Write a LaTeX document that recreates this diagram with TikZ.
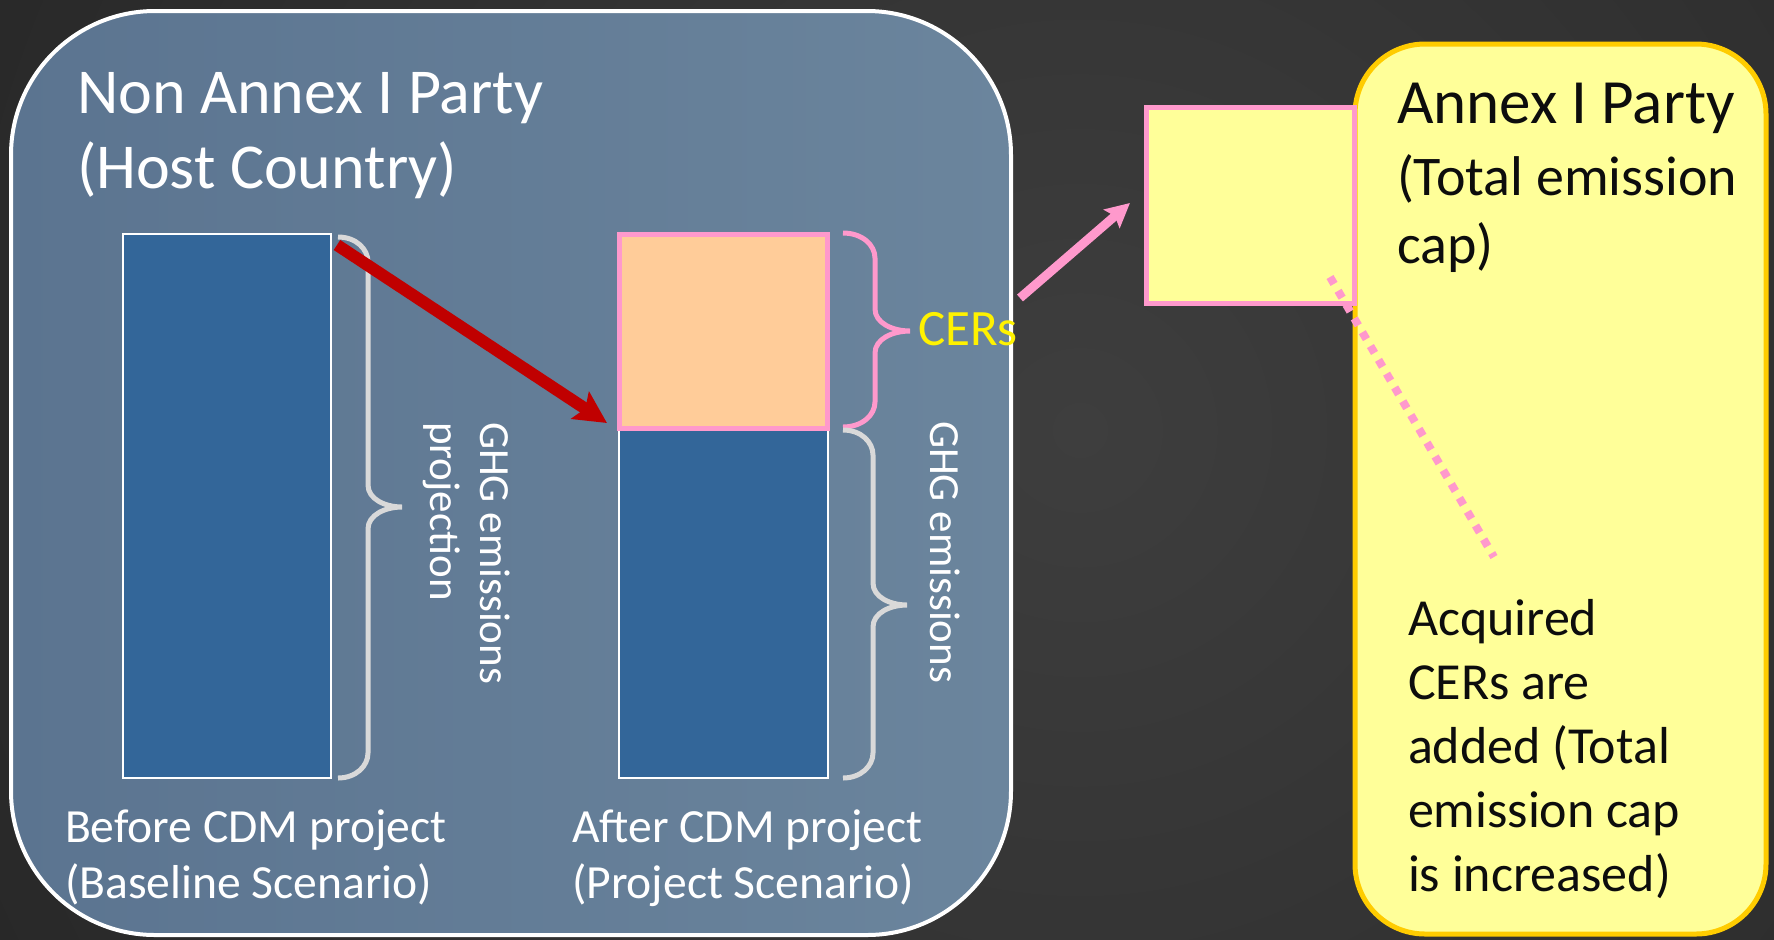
\documentclass[tikz,border=0pt]{standalone}
\usepackage{fontspec}
\setmainfont{Carlito}
\usetikzlibrary{arrows.meta}
\definecolor{bgin}{HTML}{3E3E3E}
\definecolor{bgout}{HTML}{141414}
\definecolor{boxleft}{HTML}{5B7490}
\definecolor{boxright}{HTML}{6B859D}
\definecolor{barblue}{HTML}{336699}
\definecolor{peach}{HTML}{FFCC99}
\definecolor{pinkc}{HTML}{FF99CC}
\definecolor{lyellow}{HTML}{FFFF99}
\definecolor{goldc}{HTML}{FFCC00}
\definecolor{redc}{HTML}{C00000}
\definecolor{braceg}{HTML}{D9D9D9}
\definecolor{txtdark}{HTML}{0D0D0D}
\pgfdeclareradialshading{bgshade}{\pgfpoint{0bp}{0bp}}{color(0bp)=(bgin); color(50bp)=(bgout)}
\newcommand\mybrace[7]{%
  \draw[#1] (#2,#5) .. controls ({#2+0.6*(#3-#2)},#5) and (#3,{#5+12}) .. (#3,{#5+25})
   -- (#3,{#6-22}) .. controls (#3,{#6-8}) and ({#3+0.5*(#4-#3)},#6) .. (#4,#6)
   .. controls ({#3+0.5*(#4-#3)},#6) and (#3,{#6+8}) .. (#3,{#6+22})
   -- (#3,{#7-25}) .. controls (#3,{#7-12}) and ({#2+0.6*(#3-#2)},#7) .. (#2,#7);}
\begin{document}
\begin{tikzpicture}[x=0.5pt,y=-0.5pt,
  boxbase/.style={rectangle, inner sep=0pt, outer sep=0pt, anchor=north west},
  container/.style={boxbase, left color=boxleft, right color=boxright, draw=white, line width=2pt, rounded corners=72pt},
  bluebar/.style={boxbase, fill=barblue, draw=white, line width=1pt},
  cerbox/.style={boxbase, fill=peach, draw=pinkc, line width=2.5pt},
  smallbox/.style={boxbase, fill=lyellow, draw=pinkc, line width=2.5pt},
  annexbox/.style={boxbase, fill=lyellow, draw=goldc, line width=2.5pt, rounded corners=35pt},
  graybrace/.style={draw=braceg, line width=2.5pt},
  pinkbrace/.style={draw=pinkc, line width=2.5pt},
  redarrow/.style={draw=redc, line width=6pt, -{Stealth[length=16pt, width=16pt, inset=3pt]}},
  pinkarrow/.style={draw=pinkc, line width=4.5pt, -{Stealth[length=12pt, width=12pt, inset=2pt]}},
  dotline/.style={draw=pinkc, line width=4pt, dash pattern=on 4pt off 4pt},
  lbl/.style={anchor=base west, inner sep=0pt, outer sep=0pt}
]
\useasboundingbox (0,0) rectangle (1774,939);
\begin{scope}
  \clip (0,0) rectangle (1774,939);
  \fill[bgout] (0,0) rectangle (1774,939);
  \shade[shading=bgshade] (-70,-720) rectangle (2230,1580);
\end{scope}

% left container
\node[container, minimum width=500pt, minimum height=462pt] (host) at (11,11) {};
\node[lbl, text=white, font=\fontsize{32}{37.5}\selectfont] (hosttitle) at (77,113)
  {\vtop{\hbox{Non Annex I Party}\hbox{(Host Country)}}};

% baseline bar
\node[bluebar, minimum width=104pt, minimum height=272pt] (bar1) at (123,234) {};
\mybrace{graybrace}{338}{368}{402}{237}{507}{778}
\node[lbl, rotate=-90, text=white, font=\fontsize{21.5}{25}\selectfont] (ghgproj) at (480,422)
  {\vtop{\hbox{GHG emissions}\hbox{projection}}};
\node[lbl, text=white, font=\fontsize{23.8}{28}\selectfont] (before) at (65,842)
  {\vtop{\hbox{Before CDM project}\hbox{(Baseline Scenario)}}};

% project bar
\node[bluebar, minimum width=104.5pt, minimum height=175pt] (bar2) at (619,428) {};
\node[cerbox, minimum width=104pt, minimum height=96.75pt] (cers) at (619.5,234.5) {};
\mybrace{pinkbrace}{843}{875}{910}{233}{331}{427}
\mybrace{graybrace}{843}{873}{907}{430}{605}{778}
\node[lbl, text=yellow, font=\fontsize{25.5}{30}\selectfont] (cerlabel) at (918,345) {CERs};
\node[lbl, rotate=-90, text=white, font=\fontsize{21.5}{25}\selectfont] (ghgem) at (930,421) {GHG emissions};
\node[lbl, text=white, font=\fontsize{23.8}{28}\selectfont] (after) at (572,842)
  {\vtop{\hbox{After CDM project}\hbox{(Project Scenario)}}};

% red arrow
\coordinate (redstart) at (337,245);
\coordinate (redend) at (607,423);
\draw[redarrow] (redstart) -- (redend);

% Annex I party
\node[annexbox, minimum width=205.5pt, minimum height=445pt] (annex) at (1355,44) {};
\node[smallbox, minimum width=104pt, minimum height=97.75pt] (acq) at (1146,107.5) {};
\node[lbl, text=txtdark] (annextitle) at (1397,123)
  {\vtop{\baselineskip=36pt\lineskiplimit=-100pt
    \hbox{\fontsize{31.5}{35}\selectfont Annex I Party}
    \hbox{\fontsize{28}{34}\selectfont (Total emission}\baselineskip=34pt
    \hbox{\fontsize{28}{34}\selectfont cap)}}};
\node[lbl, text=txtdark, font=\fontsize{26}{32}\selectfont] (acqtext) at (1408,635)
  {\vtop{\hbox{Acquired}\hbox{CERs are}\hbox{added (Total}\hbox{emission cap}\hbox{is increased)}}};

% pink arrow and dotted line
\coordinate (pinkstart) at (1020,298);
\coordinate (pinkend) at (1130,203);
\draw[pinkarrow] (pinkstart) -- (pinkend);
\coordinate (dotstart) at (1330,277);
\coordinate (dotend) at (1494,557);
\draw[dotline] (dotstart) -- (dotend);
\end{tikzpicture}
\end{document}
